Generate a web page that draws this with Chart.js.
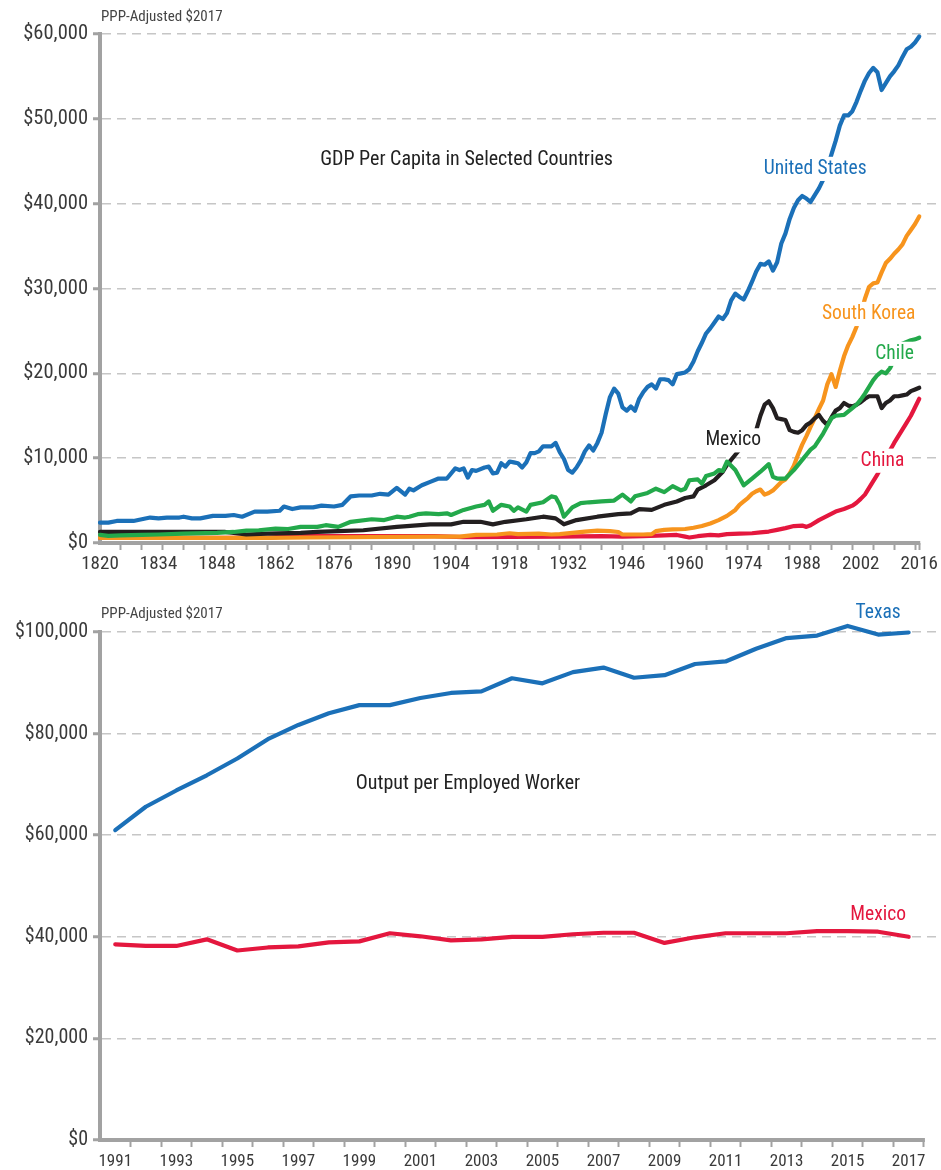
<!DOCTYPE html>
<html><head><meta charset="utf-8">
<script src="https://cdn.jsdelivr.net/npm/chart.js@4.4.1/dist/chart.umd.min.js"></script>
<style>html,body{margin:0;padding:0;background:#fff;}canvas{display:block;}</style>
</head><body>
<canvas id="c1" width="941" height="590"></canvas>
<canvas id="c2" width="941" height="580"></canvas>
<script>
// ---------- Top chart: GDP per capita (thousands of PPP $2017) ----------
const xLabelYears = [1820,1834,1848,1862,1876,1890,1904,1918,1932,1946,1960,1974,1988,2002,2016];
const usYears = [1820,1822,1824,1828,1832,1834,1836,1839,1840,1842,
  1844,1847,1850,1852,1854,1857,1860,1863,1864,1866,
  1868,1871,1873,1876,1878,1880,1882,1885,1887,1889,
  1891,1893,1894,1895,1897,1899,1901,1903,1905,1906,
  1907,1908,1909,1910,1912,1913,1914,1915,1916,1917,
  1918,1919,1920,1921,1922,1923,1924,1925,1926,1927,
  1928,1929,1930,1931,1932,1933,1934,1935,1936,1937,
  1938,1939,1940,1941,1942,1943,1944,1945,1946,1947,
  1948,1949,1950,1951,1952,1953,1954,1955,1956,1957,
  1958,1959,1960,1961,1962,1963,1964,1965,1966,1967,
  1968,1969,1970,1971,1972,1973,1974,1975,1976,1977,
  1978,1979,1980,1981,1982,1983,1984,1985,1986,1987,
  1988,1989,1990,1991,1992,1993,1994,1995,1996,1997,
  1998,1999,2000,2001,2002,2003,2004,2005,2006,2007,
  2008,2009,2010,2011,2012,2013,2014,2015,2016];
const usGdp = [2.4,2.4,2.6,2.6,3.0,2.9,3.0,3.0,3.1,2.9,
  2.9,3.2,3.2,3.3,3.1,3.7,3.7,3.8,4.3,4.0,
  4.2,4.2,4.4,4.3,4.5,5.5,5.6,5.6,5.8,5.7,
  6.5,5.7,6.4,6.2,6.8,7.2,7.6,7.6,8.8,8.6,
  8.8,7.7,8.6,8.5,8.9,9.0,8.2,8.3,9.4,9.0,
  9.6,9.5,9.4,8.9,9.5,10.6,10.6,10.8,11.4,11.4,
  11.4,11.8,10.7,9.9,8.6,8.3,8.9,9.7,10.8,11.5,
  10.9,11.8,13.0,15.2,17.2,18.2,17.6,16.0,15.6,16.1,
  15.6,17.0,17.8,18.4,18.7,18.2,19.3,19.3,19.2,18.7,
  19.9,20.0,20.1,20.5,21.4,22.6,23.6,24.7,25.3,26.0,
  26.7,26.4,27.1,28.6,29.4,29.0,28.7,29.7,30.8,32.0,
  32.9,32.8,33.2,32.1,33.1,35.3,36.5,38.2,39.5,40.4,
  40.9,40.6,40.2,41.0,41.8,42.8,44.2,45.8,47.4,49.2,
  50.4,50.4,50.9,52.0,53.3,54.5,55.4,56.0,55.5,53.4,
  54.2,55.0,55.6,56.3,57.3,58.2,58.5,59.0,59.7];
const chileYears = [1820,1822,1825,1830,1834,1840,1848,1852,1855,1858,
  1862,1865,1868,1872,1874,1877,1880,1885,1888,1891,
  1893,1894,1896,1898,1901,1903,1904,1907,1910,1912,
  1913,1914,1916,1918,1919,1920,1922,1923,1926,1928,
  1929,1930,1931,1933,1935,1937,1940,1943,1945,1947,
  1948,1951,1953,1955,1957,1959,1960,1961,1963,1964,
  1965,1967,1968,1969,1970,1972,1974,1976,1978,1980,
  1981,1982,1984,1986,1988,1990,1991,1993,1995,1996,
  1998,2000,2001,2002,2003,2004,2005,2006,2007,2008,
  2009,2010,2011,2012,2013,2014,2015,2016];
const chileGdp = [0.95,0.85,0.9,0.95,1.0,1.1,1.2,1.3,1.45,1.5,
  1.7,1.65,1.9,1.9,2.1,1.9,2.5,2.8,2.7,3.1,
  3.0,3.1,3.4,3.5,3.4,3.5,3.3,3.9,4.3,4.5,
  4.9,3.8,4.5,4.3,3.8,4.2,3.7,4.5,4.8,5.5,
  5.4,4.5,3.1,4.2,4.7,4.8,4.9,5.0,5.7,4.9,
  5.5,5.9,6.4,6.0,6.7,6.2,6.4,7.4,7.5,7.0,
  7.9,8.2,8.6,8.5,9.6,8.6,6.8,7.6,8.4,9.3,
  7.8,7.6,7.6,8.6,9.8,11.0,11.4,12.9,14.7,15.0,
  15.1,15.9,16.3,16.9,17.6,18.4,19.2,19.8,20.2,20.0,
  20.6,21.6,23.2,23.5,23.7,23.9,24.0,24.2];
const mexicoYears = [1820,1850,1855,1860,1868,1872,1877,1883,1891,1899,
  1904,1907,1911,1914,1917,1922,1926,1929,1931,1934,
  1939,1944,1947,1949,1952,1955,1958,1960,1962,1963,
  1965,1967,1969,1970,1972,1974,1976,1977,1978,1979,
  1980,1981,1982,1983,1984,1985,1986,1987,1988,1989,
  1990,1991,1992,1993,1994,1995,1996,1997,1998,1999,
  2000,2001,2002,2003,2004,2005,2006,2007,2008,2009,
  2010,2011,2012,2013,2014,2015,2016];
const mexicoGdp = [1.3,1.3,1.0,1.1,1.2,1.3,1.4,1.5,1.9,2.2,
  2.2,2.5,2.5,2.2,2.5,2.8,3.1,2.9,2.2,2.7,
  3.1,3.4,3.5,4.0,3.9,4.5,4.9,5.3,5.5,6.3,
  6.8,7.4,8.4,9.2,10.4,11.6,12.6,13.3,15.0,16.3,
  16.7,15.9,14.7,14.6,14.5,13.3,13.1,13.0,13.3,13.9,
  14.2,14.7,15.1,14.4,13.9,14.8,15.6,15.9,16.5,16.2,
  16.1,16.3,16.6,17.0,17.3,17.3,17.3,15.9,16.5,16.8,
  17.3,17.3,17.4,17.5,17.9,18.1,18.3];
const koreaYears = [1820,1860,1870,1900,1906,1910,1915,1918,1920,1925,
  1928,1930,1933,1936,1939,1942,1944,1945,1950,1952,
  1953,1955,1957,1960,1962,1964,1966,1968,1970,1972,
  1973,1974,1975,1976,1977,1978,1979,1980,1981,1982,
  1983,1984,1985,1986,1987,1988,1989,1990,1991,1992,
  1993,1994,1995,1996,1997,1998,1999,2000,2001,2002,
  2003,2004,2005,2006,2007,2008,2009,2010,2011,2012,
  2013,2014,2015,2016];
const koreaGdp = [0.6,0.6,0.65,0.75,0.75,0.95,1.0,1.15,1.05,1.1,
  1.0,1.05,1.2,1.35,1.45,1.4,1.3,1.0,1.0,1.05,
  1.4,1.55,1.6,1.65,1.8,2.0,2.3,2.7,3.2,3.9,
  4.5,4.9,5.3,5.8,6.1,6.3,5.7,5.9,6.2,6.7,
  7.2,7.5,8.2,9.1,10.4,11.6,12.6,13.7,14.7,15.8,
  16.8,18.7,19.9,18.4,20.3,22.0,23.3,24.3,25.5,27.0,
  28.8,30.2,30.6,30.7,31.9,33.0,33.5,34.1,34.6,35.2,
  36.2,36.9,37.6,38.5];
const chinaYears = [1820,1860,1865,1900,1907,1930,1940,1945,1950,1955,
  1958,1960,1961,1963,1966,1968,1970,1973,1976,1978,
  1980,1982,1984,1986,1988,1989,1990,1992,1994,1996,
  1998,2000,2001,2002,2003,2004,2005,2006,2007,2008,
  2009,2010,2011,2012,2013,2014,2015,2016];
const chinaGdp = [0.6,0.6,0.8,0.8,0.7,0.75,0.8,0.75,0.8,0.9,
  0.95,0.75,0.65,0.8,0.95,0.9,1.05,1.1,1.15,1.25,
  1.35,1.55,1.75,2.0,2.05,1.9,2.1,2.7,3.2,3.7,
  4.0,4.4,4.75,5.2,5.7,6.5,7.3,8.1,9.0,10.0,
  10.9,11.8,12.6,13.4,14.2,15.0,16.0,17.0];

// ---------- Bottom chart: output per employed worker (thousands) ----------
const workerYears = [1991,1992,1993,1994,1995,1996,1997,1998,1999,2000,2001,2002,2003,2004,2005,2006,2007,2008,2009,2010,2011,2012,2013,2014,2015,2016,2017];
const workerLabelYears = [1991,1993,1995,1997,1999,2001,2003,2005,2007,2009,2011,2013,2015,2017];
const texasOutput = [61.0,65.6,68.8,71.8,75.1,78.9,81.7,84.0,85.6,85.6,87.0,88.0,88.3,90.9,89.9,92.1,93.0,91.0,91.5,93.7,94.2,96.7,98.8,99.3,101.2,99.5,99.9];
const mexicoOutput = [38.5,38.2,38.2,39.5,37.3,37.9,38.1,38.9,39.1,40.7,40.1,39.3,39.5,40.0,40.0,40.5,40.8,40.8,38.8,39.9,40.7,40.7,40.7,41.1,41.1,41.0,40.0];

// ---------- styling ----------
const FONT = "'Liberation Sans Narrow','Roboto Condensed','DejaVu Sans Condensed',sans-serif";
const AXIS = '#a2a2a2', GRID = '#c6c6c6', TICKTXT = '#3a3a3a';
const C = {blue:'#1b70b8', orange:'#f7941d', green:'#23a94b', black:'#231f20', red:'#e4173e'};
const money = v => '$' + Math.round(v * 1000).toLocaleString('en-US');
const pts = (xs, ys) => xs.map((x, i) => ({x, y: ys[i]}));
const ds = (label, xs, ys, color, order) => ({label, data: pts(xs, ys), borderColor: color, borderWidth: 4.2,
  pointRadius: 0, tension: 0, borderJoinStyle: 'round', borderCapStyle: 'round', clip: false, order, fill: false});

function decorPlugin(cfg) {
  return {
    id: 'decor',
    beforeDatasetsDraw(chart) {
      const {ctx, chartArea, scales: {x}} = chart;
      ctx.save();
      ctx.strokeStyle = AXIS; ctx.lineWidth = 4;
      ctx.beginPath();
      ctx.moveTo(chartArea.left - 2, chartArea.bottom);
      ctx.lineTo(x.getPixelForValue(cfg.axisEnd) + 1, chartArea.bottom);
      ctx.stroke();
      ctx.restore();
    },
    afterDatasetsDraw(chart) {
      const {ctx, chartArea, scales: {x, y}} = chart;
      ctx.save();
      ctx.textBaseline = 'middle';
      for (const l of cfg.labels) {
        const px = x.getPixelForValue(l.x), py = y.getPixelForValue(l.y);
        ctx.font = l.size + 'px ' + FONT;
        const w = ctx.measureText(l.text).width;
        if (l.bg) { ctx.fillStyle = '#fff'; ctx.fillRect(px - w / 2 - 3, py - l.size * 0.62, w + 6, l.size * 1.24); }
        ctx.fillStyle = l.color; ctx.textAlign = 'center';
        ctx.fillText(l.text, px, py);
      }
      ctx.font = '15px ' + FONT; ctx.fillStyle = '#444'; ctx.textAlign = 'left';
      ctx.fillText('PPP-Adjusted $2017', chartArea.left + 1, chartArea.top - cfg.unitOffset);
      ctx.restore();
    }
  };
}

// ---------- top chart ----------
new Chart(document.getElementById('c1'), {
  type: 'line',
  data: {datasets: [
    ds('United States', usYears, usGdp, C.blue, 0),
    ds('Chile', chileYears, chileGdp, C.green, 1),
    ds('Mexico', mexicoYears, mexicoGdp, C.black, 2),
    ds('South Korea', koreaYears, koreaGdp, C.orange, 3),
    ds('China', chinaYears, chinaGdp, C.red, 4)
  ]},
  options: {
    responsive: false, animation: false, events: [],
    layout: {padding: {top: 34, right: 0, left: 0, bottom: 0}},
    plugins: {legend: {display: false}, tooltip: {enabled: false}},
    scales: {
      x: {type: 'linear', min: 1820, max: 2020.6,
        afterFit: s => { s.height = 47; },
        afterBuildTicks: s => {
          const set = new Set(xLabelYears);
          for (let yr = 1825; yr <= 2015; yr += 5) set.add(yr);
          s.ticks = [...set].sort((a, b) => a - b).map(v => ({value: v}));
        },
        grid: {drawOnChartArea: false, drawTicks: true, tickLength: 7, tickWidth: 2,
          tickColor: c => (c.tick && xLabelYears.includes(c.tick.value) && c.tick.value !== 2016) ? 'rgba(0,0,0,0)' : AXIS},
        border: {display: false},
        ticks: {autoSkip: false, maxRotation: 0, padding: 3, color: TICKTXT, font: {family: FONT, size: 19},
          callback: v => xLabelYears.includes(v) ? String(v) : ''}
      },
      y: {min: 0, max: 60,
        afterFit: s => { s.width = 100; },
        ticks: {stepSize: 10, padding: 5, color: TICKTXT, font: {family: FONT, size: 20.5}, callback: v => money(v)},
        grid: {color: c => (c.tick && c.tick.value === 0) ? 'rgba(0,0,0,0)' : GRID, lineWidth: 1.5,
          tickColor: AXIS, tickWidth: 3, tickLength: 7},
        border: {display: true, color: AXIS, width: 4, dash: [9, 6]}
      }
    }
  },
  plugins: [decorPlugin({axisEnd: 2016, unitOffset: 17, labels: [
    {text: 'GDP Per Capita in Selected Countries', x: 1907.7, y: 45.1, color: '#222', size: 20, bg: false},
    {text: 'United States', x: 1991.1, y: 44.1, color: C.blue, size: 19.5, bg: true},
    {text: 'South Korea', x: 2003.9, y: 27.0, color: C.orange, size: 19.5, bg: true},
    {text: 'Chile', x: 2010.1, y: 22.3, color: C.green, size: 19.5, bg: true},
    {text: 'Mexico', x: 1971.5, y: 12.1, color: '#222', size: 19.5, bg: true},
    {text: 'China', x: 2007.2, y: 9.7, color: C.red, size: 19.5, bg: true}
  ]})]
});

// ---------- bottom chart ----------
new Chart(document.getElementById('c2'), {
  type: 'line',
  data: {datasets: [
    ds('Texas', workerYears, texasOutput, C.blue, 0),
    ds('Mexico', workerYears, mexicoOutput, C.red, 1)
  ]},
  options: {
    responsive: false, animation: false, events: [],
    layout: {padding: {top: 42, right: 0, left: 0, bottom: 0}},
    plugins: {legend: {display: false}, tooltip: {enabled: false}},
    scales: {
      x: {type: 'linear', min: 1990.5, max: 2018.06,
        afterFit: s => { s.height = 30; },
        afterBuildTicks: s => {
          const arr = [];
          for (const yr of workerYears) { arr.push(yr); arr.push(yr + 0.5); }
          s.ticks = arr.map(v => ({value: v}));
        },
        grid: {drawOnChartArea: false, drawTicks: true, tickLength: 7, tickWidth: 2,
          tickColor: c => (c.tick && Number.isInteger(c.tick.value)) ? 'rgba(0,0,0,0)' : AXIS},
        border: {display: false},
        ticks: {autoSkip: false, maxRotation: 0, padding: 5, color: TICKTXT, font: {family: FONT, size: 17},
          callback: v => workerLabelYears.includes(v) ? String(v) : ''}
      },
      y: {min: 0, max: 100,
        afterFit: s => { s.width = 100; },
        ticks: {stepSize: 20, padding: 5, color: TICKTXT, font: {family: FONT, size: 20}, callback: v => money(v)},
        grid: {color: c => (c.tick && c.tick.value === 0) ? 'rgba(0,0,0,0)' : GRID, lineWidth: 1.5,
          tickColor: AXIS, tickWidth: 3, tickLength: 7},
        border: {display: true, color: AXIS, width: 4, dash: [9, 6]}
      }
    }
  },
  plugins: [decorPlugin({axisEnd: 2017.5, unitOffset: 18, labels: [
    {text: 'Output per Employed Worker', x: 2002.56, y: 70.1, color: '#222', size: 20, bg: false},
    {text: 'Texas', x: 2016.0, y: 103.7, color: C.blue, size: 19.5, bg: false},
    {text: 'Mexico', x: 2016.0, y: 44.3, color: C.red, size: 19.5, bg: false}
  ]})]
});
</script>
</body></html>
